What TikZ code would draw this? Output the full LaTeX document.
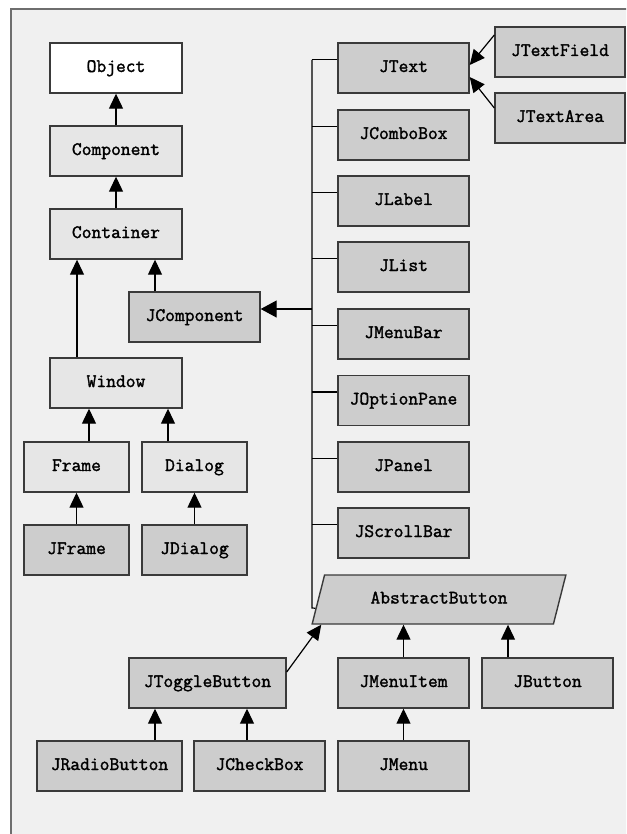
\documentclass[tikz,border=0pt]{standalone}
\usepackage{fontspec}
\newfontfamily\boxfont{Latin Modern Mono}[FakeBold=1.6]
\usetikzlibrary{arrows.meta,shapes.geometric,calc}
\definecolor{bgc}{HTML}{F0F0F0}
\definecolor{framec}{HTML}{6E6E6E}
\definecolor{bordc}{HTML}{3A3A3A}
\definecolor{lightc}{HTML}{E6E6E6}
\definecolor{jc}{HTML}{CDCDCD}
\tikzset{
  cls/.style={draw=bordc, line width=1.4pt, minimum height=50pt, inner sep=0pt,
    text height=11pt, text depth=3pt,
    font=\boxfont\bfseries\fontsize{19}{21}\selectfont},
  objbox/.style={cls, fill=white},
  ltbox/.style={cls, fill=lightc},
  jbox/.style={cls, fill=jc},
  conn/.style={line width=1.2pt, draw=black},
  arr/.style={conn, -{Triangle[width=14pt,length=15pt]}},
}
\begin{document}
\begin{tikzpicture}[x=1pt,y=-1pt]
\useasboundingbox (0,0) rectangle (626,834);
\clip (0,0) rectangle (626,834);
\fill[white] (0,0) rectangle (626,834);
\draw[framec, line width=1.5pt, fill=bgc] (11,9) rectangle (660,860);

% left hierarchy
\node[objbox, minimum width=132pt] (Object) at (116,68) {Object};
\node[ltbox, minimum width=132pt] (Component) at (116,151) {Component};
\node[ltbox, minimum width=132pt] (Container) at (116,234) {Container};
\node[jbox, minimum width=131pt] (JComponent) at (194.5,317) {JComponent};
\node[ltbox, minimum width=132pt] (Window) at (116,383) {Window};
\node[ltbox, minimum width=105pt] (Frame) at (76.5,467) {Frame};
\node[ltbox, minimum width=105pt] (Dialog) at (194.5,467) {Dialog};
\node[jbox, minimum width=105pt] (JFrame) at (76.5,550) {JFrame};
\node[jbox, minimum width=105pt] (JDialog) at (194.5,550) {JDialog};

% right column
\node[jbox, minimum width=131pt] (JText) at (403.5,68) {JText};
\node[jbox, minimum width=131pt] (JComboBox) at (403.5,135) {JComboBox};
\node[jbox, minimum width=131pt] (JLabel) at (403.5,201) {JLabel};
\node[jbox, minimum width=131pt] (JList) at (403.5,267) {JList};
\node[jbox, minimum width=131pt] (JMenuBar) at (403.5,334) {JMenuBar};
\node[jbox, minimum width=131pt] (JOptionPane) at (403.5,400.5) {JOptionPane};
\node[jbox, minimum width=131pt] (JPanel) at (403.5,467) {JPanel};
\node[jbox, minimum width=131pt] (JScrollBar) at (403.5,533) {JScrollBar};
\node[jbox, minimum width=130pt] (JTextField) at (560,52) {JTextField};
\node[jbox, minimum width=130pt] (JTextArea) at (560,118) {JTextArea};

% buttons
\node[jbox, trapezium, trapezium left angle=62, trapezium right angle=118,
      trapezium stretches=true, minimum width=254pt, minimum height=49pt]
      (AB) at (439,599.5) {AbstractButton};
\node[jbox, minimum width=157pt] (JToggleButton) at (207.5,683) {JToggleButton};
\node[jbox, minimum width=131pt] (JMenuItem) at (403.5,683) {JMenuItem};
\node[jbox, minimum width=131pt] (JButton) at (547.5,683) {JButton};
\node[jbox, minimum width=145pt] (JRadioButton) at (109.5,766) {JRadioButton};
\node[jbox, minimum width=131pt] (JCheckBox) at (259.5,766) {JCheckBox};
\node[jbox, minimum width=131pt] (JMenu) at (403.5,766) {JMenu};

% left connectors
\draw[arr] (Component) -- (Object);
\draw[arr] (Container) -- (Component);
\draw[arr] (Window.north -| 77,0) -- (Container.south -| 77,0);
\draw[arr] (JComponent.north -| 155,0) -- (Container.south -| 155,0);
\draw[arr] (Frame.north -| 89,0) -- (Window.south -| 89,0);
\draw[arr] (Dialog.north -| 168,0) -- (Window.south -| 168,0);
\draw[arr] (JFrame) -- (Frame);
\draw[arr] (JDialog) -- (Dialog);

% bus
\coordinate (busTop) at (312,60);
\coordinate (busBot) at (312,608);
\draw[conn] (busTop) -- (busBot) -- ($(AB.bottom left corner)!0.327!(AB.top left corner)$);
\foreach \n in {JText,JComboBox,JLabel,JList,JMenuBar,JOptionPane,JPanel,JScrollBar}{
  \path ([yshift=8.5pt]\n.west) coordinate (s\n);
  \draw[conn] (s\n) -- (s\n -| busTop);
}
\path ([yshift=8pt]JComponent.east) coordinate (jce);
\draw[arr, -{Triangle[width=17pt,length=16pt]}] (jce -| busTop) -- (jce);

% JText children
\draw[arr] ([yshift=17pt]JTextField.west) -- ([yshift=3pt]JText.east);
\draw[arr] ([yshift=10pt]JTextArea.west) -- ([yshift=-9pt]JText.east);

% buttons connectors
\draw[arr] (JMenuItem.north) -- (JMenuItem.north |- AB.south);
\draw[arr] (JButton.north -| 508,0) -- (AB.south -| 508,0);
\draw[arr] (JMenu) -- (JMenuItem);
\draw[arr] (JRadioButton.north -| 155,0) -- (JToggleButton.south -| 155,0);
\draw[arr] (JCheckBox.north -| 247,0) -- (JToggleButton.south -| 247,0);
\draw[arr] ([yshift=11pt]JToggleButton.east) -- ($(AB.bottom left corner)+(10,0)$);
\end{tikzpicture}
\end{document}
